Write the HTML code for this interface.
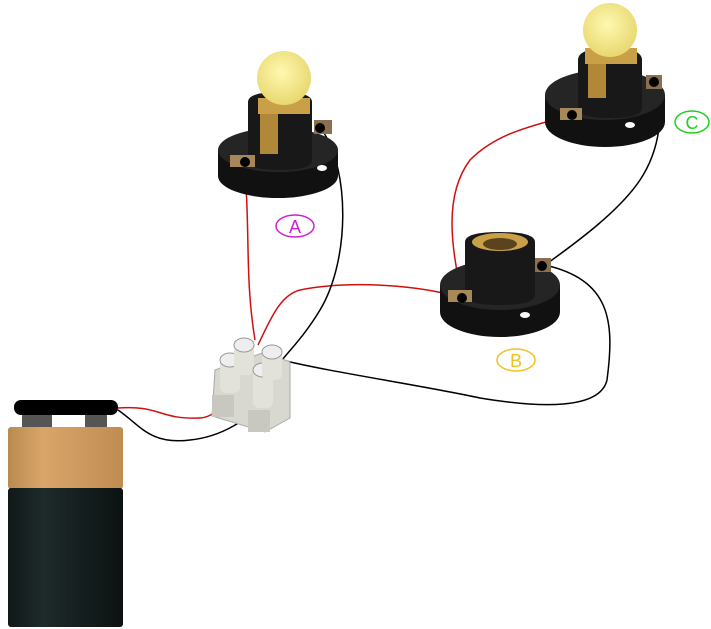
<!DOCTYPE html>
<html><head><style>html,body{margin:0;padding:0;background:#fff;width:711px;height:629px;overflow:hidden}</style></head>
<body>
<svg width="711" height="629" viewBox="0 0 711 629" xmlns="http://www.w3.org/2000/svg">
<defs>
<radialGradient id="bulb" cx="0.45" cy="0.4" r="0.6"><stop offset="0" stop-color="#fff8b0"/><stop offset="1" stop-color="#e8d870"/></radialGradient>
<linearGradient id="gold" x1="0" y1="0" x2="1" y2="0"><stop offset="0" stop-color="#b98a4f"/><stop offset="0.3" stop-color="#d9a569"/><stop offset="1" stop-color="#c08c52"/></linearGradient>
<linearGradient id="blk" x1="0" y1="0" x2="1" y2="0"><stop offset="0" stop-color="#101818"/><stop offset="0.3" stop-color="#1e2a2a"/><stop offset="1" stop-color="#0c1212"/></linearGradient>
</defs>

<g fill="none" stroke-width="1.5">
<path d="M118 408 C160 405,160 420,200 418 C215 417,220 405,232 400" stroke="#d01010"/>
<path d="M118 410 C140 425,150 445,190 440 C220 437,250 420,262 400" stroke="#000"/>
<path d="M245 172 C250 230,245 280,255 340" stroke="#d01010"/>
<path d="M258 345 C270 320,280 295,300 290 C350 280,420 285,462 298" stroke="#d01010"/>
<path d="M462 298 C455 260,440 200,470 160 C500 130,540 125,570 115" stroke="#d01010"/>
<path d="M322 130 C350 170,350 260,320 310 C305 335,290 350,282 360" stroke="#000"/>
<path d="M282 360 C330 372,420 385,480 398 C540 408,600 410,607 380 C615 320,610 280,545 265" stroke="#000"/>
<path d="M545 265 C580 240,620 210,640 180 C660 150,665 110,655 80" stroke="#000"/>
</g>

<!-- Lamp A -->
<g>
<ellipse cx="278" cy="176" rx="60" ry="22" fill="#111"/>
<rect x="218" y="150" width="120" height="26" fill="#111"/>
<ellipse cx="278" cy="150" rx="60" ry="22" fill="#252525"/>
<ellipse cx="322" cy="168" rx="5" ry="3" fill="#fff"/>
<path d="M248 102 Q248 92 280 92 Q312 92 312 102 L312 160 Q312 170 280 170 Q248 170 248 160Z" fill="#181818"/>
<rect x="258" y="98" width="52" height="16" fill="#c9a048"/>
<circle cx="284" cy="78" r="27" fill="url(#bulb)"/>
<rect x="260" y="114" width="18" height="40" fill="#b08838"/>
<rect x="230" y="155" width="25" height="12" fill="#a88858"/>
<circle cx="245" cy="162" r="5" fill="#000"/>
<rect x="314" y="120" width="18" height="14" fill="#8a7050"/>
<circle cx="320" cy="128" r="5" fill="#000"/>
</g>

<!-- Lamp C -->
<g>
<ellipse cx="605" cy="122" rx="60" ry="25" fill="#111"/>
<rect x="545" y="95" width="120" height="27" fill="#111"/>
<ellipse cx="605" cy="95" rx="60" ry="25" fill="#252525"/>
<ellipse cx="630" cy="125" rx="5" ry="3" fill="#fff"/>
<path d="M578 60 Q578 48 610 48 Q642 48 642 60 L642 108 Q642 118 610 118 Q578 118 578 108Z" fill="#181818"/>
<rect x="585" y="48" width="52" height="16" fill="#c9a048"/>
<circle cx="610" cy="30" r="27" fill="url(#bulb)"/>
<rect x="588" y="64" width="18" height="34" fill="#b08838"/>
<rect x="560" y="108" width="22" height="12" fill="#a88858"/>
<circle cx="572" cy="115" r="5" fill="#000"/>
<rect x="646" y="75" width="16" height="14" fill="#8a7050"/>
<circle cx="654" cy="82" r="5" fill="#000"/>
</g>

<!-- Lamp B -->
<g>
<ellipse cx="500" cy="312" rx="60" ry="25" fill="#111"/>
<rect x="440" y="285" width="120" height="27" fill="#111"/>
<ellipse cx="500" cy="285" rx="60" ry="25" fill="#252525"/>
<ellipse cx="525" cy="315" rx="5" ry="3" fill="#fff"/>
<path d="M465 242 Q465 232 500 232 Q535 232 535 242 L535 295 Q535 305 500 305 Q465 305 465 295Z" fill="#181818"/>
<ellipse cx="500" cy="242" rx="28" ry="9" fill="#c9a048"/>
<ellipse cx="500" cy="244" rx="17" ry="6" fill="#5a4420"/>
<rect x="448" y="290" width="24" height="12" fill="#a88858"/>
<circle cx="462" cy="298" r="5" fill="#000"/>
<rect x="535" y="258" width="16" height="14" fill="#8a7050"/>
<circle cx="542" cy="266" r="5" fill="#000"/>
</g>

<!-- Terminal block -->
<g>
<path d="M215 370 L265 352 L290 362 L290 418 L265 432 L212 416Z" fill="#d8d8d0" stroke="#aaa"/>
<rect x="212" y="395" width="22" height="22" fill="#c8c8c0"/>
<rect x="248" y="410" width="22" height="22" fill="#c8c8c0"/>
<rect x="220" y="358" width="20" height="35" rx="6" fill="#e2e2da"/>
<ellipse cx="230" cy="360" rx="10" ry="7" fill="#eee" stroke="#999"/>
<rect x="234" y="345" width="20" height="30" rx="6" fill="#e2e2da"/>
<ellipse cx="244" cy="345" rx="10" ry="7" fill="#eee" stroke="#999"/>
<rect x="253" y="370" width="20" height="38" rx="6" fill="#e2e2da"/>
<ellipse cx="263" cy="370" rx="10" ry="7" fill="#eee" stroke="#999"/>
<rect x="262" y="350" width="20" height="30" rx="6" fill="#e2e2da"/>
<ellipse cx="272" cy="352" rx="10" ry="7" fill="#eee" stroke="#999"/>
</g>

<!-- Battery -->
<g>
<rect x="22" y="414" width="30" height="14" fill="#555"/>
<rect x="85" y="414" width="22" height="14" fill="#555"/>
<rect x="14" y="400" width="104" height="15" rx="7" fill="#000"/>
<rect x="8" y="427" width="115" height="62" rx="3" fill="url(#gold)"/>
<rect x="8" y="488" width="115" height="139" rx="3" fill="url(#blk)"/>
</g>

<g font-family="Liberation Sans, sans-serif" font-size="18" text-anchor="middle">
<ellipse cx="295" cy="226" rx="19" ry="11" fill="none" stroke="#d020d0" stroke-width="1.5"/>
<text x="295" y="233" fill="#d020d0">A</text>
<ellipse cx="516" cy="360" rx="19" ry="11" fill="none" stroke="#f0c020" stroke-width="1.5"/>
<text x="516" y="367" fill="#f0c020">B</text>
<ellipse cx="692" cy="122" rx="17" ry="11" fill="none" stroke="#20d020" stroke-width="1.5"/>
<text x="692" y="129" fill="#20d020">C</text>
</g>
</svg>
</body></html>
